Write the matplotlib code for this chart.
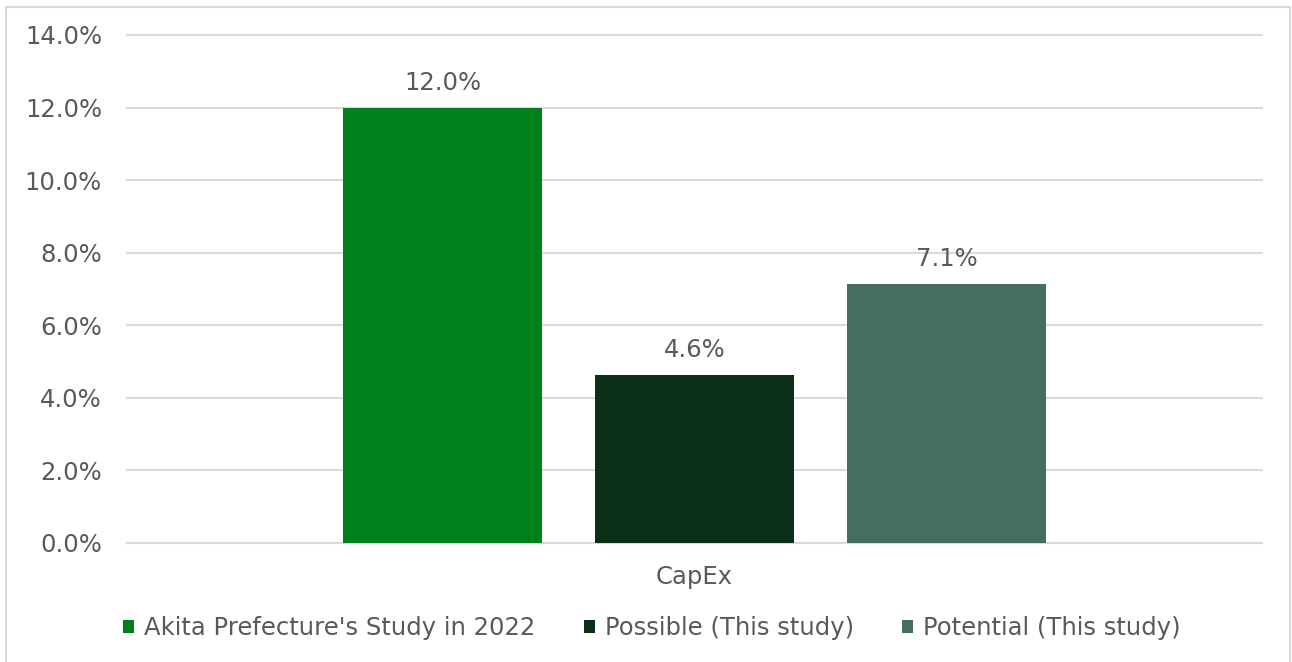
import matplotlib.pyplot as plt
from matplotlib.patches import Rectangle

# data
category = "CapEx"
series = ["Akita Prefecture's Study in 2022", "Possible (This study)", "Potential (This study)"]
values = [12.0, 4.63, 7.14]
colors = ["#00801A", "#0B2E18", "#466E5E"]
yticks = [0, 2, 4, 6, 8, 10, 12, 14]

text_col = "#595959"
grid_col = "#D9D9D9"
fs = 17.5
plt.rcParams['font.family'] = ['DejaVu Sans']

W, H = 1292, 662
fig = plt.figure(figsize=(W / 100, H / 100), dpi=100)
ax = fig.add_axes([127 / W, 1 - 543 / H, (1262 - 127) / W, (543 - 35) / H])

# chart border (bottom edge is cut off in the original)
fig.patches.append(Rectangle((6 / W, -0.05), (1290 - 6) / W, 1 - 6.5 / H + 0.05,
                             transform=fig.transFigure, fill=False,
                             edgecolor=grid_col, linewidth=1.5))

step = 252 / 199
positions = [-step, 0, step]
for pos, val, col, name in zip(positions, values, colors, series):
    ax.bar(pos, val, width=1.0, color=col, label=name, zorder=3)
    ax.text(pos, val + 0.36, f"{val:.1f}%", ha="center", va="bottom",
            fontsize=fs, color=text_col)

lim = step + 0.5 + 216 / 199
ax.set_xlim(-lim, lim)
ax.set_ylim(0, 14)
ax.set_yticks(yticks)
ax.set_yticklabels([f"{t:.1f}%" for t in yticks])
ax.set_xticks([0])
ax.set_xticklabels([category])
ax.tick_params(axis="both", length=0, labelsize=fs, labelcolor=text_col)
ax.tick_params(axis="y", pad=18)
ax.tick_params(axis="x", pad=16)
ax.grid(axis="y", color=grid_col, linewidth=1.5, zorder=0)
for line in ax.get_ygridlines():
    line.set_clip_on(False)
for s in ["top", "right", "left"]:
    ax.spines[s].set_visible(False)
ax.spines["bottom"].set_color(grid_col)
ax.spines["bottom"].set_linewidth(1.5)

leg = fig.legend(loc="center", bbox_to_anchor=(652 / W, 1 - 628 / H), ncol=3,
                 frameon=False, fontsize=fs, handlelength=0.45, handleheight=0.45,
                 handletextpad=0.4, columnspacing=2.0, labelcolor=text_col)

fig.savefig("out.png", dpi=100)
